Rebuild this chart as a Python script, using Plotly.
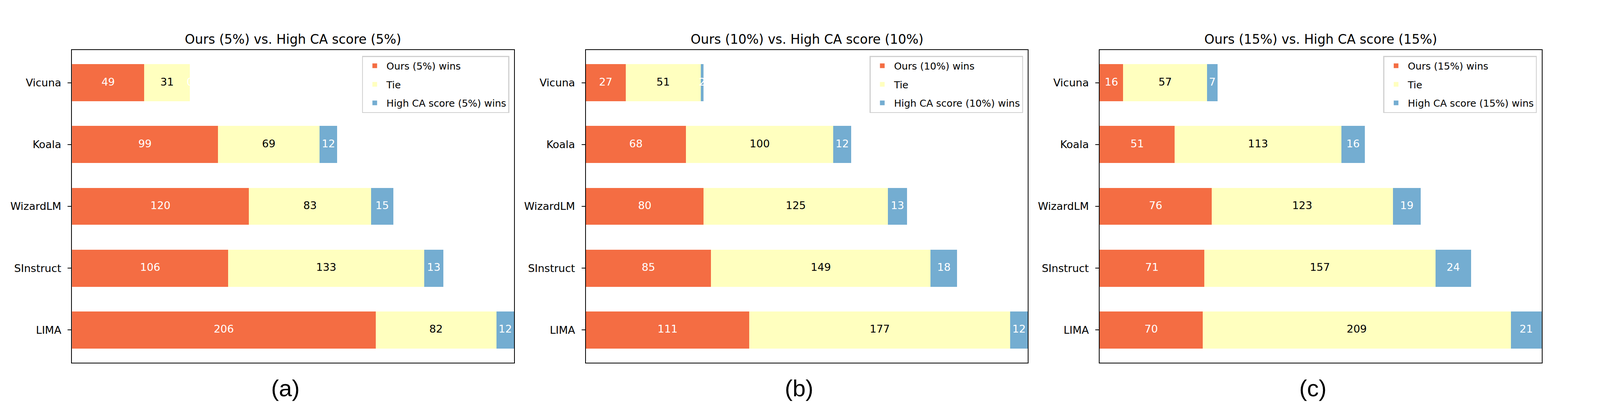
import plotly.graph_objects as go

# ---------------- data ----------------
models = ["Vicuna", "Koala", "WizardLM", "SInstruct", "LIMA"]

ours_5 = [49, 99, 120, 106, 206]
tie_5 = [31, 69, 83, 133, 82]
high_5 = [0, 12, 15, 13, 12]

ours_10 = [27, 68, 80, 85, 111]
tie_10 = [51, 100, 125, 149, 177]
high_10 = [2, 12, 13, 18, 12]

ours_15 = [16, 51, 76, 71, 70]
tie_15 = [57, 113, 123, 157, 209]
high_15 = [7, 16, 19, 24, 21]

pcts = ["5%", "10%", "15%"]
panel_letters = ["(a)", "(b)", "(c)"]
panels = [
    (ours_5, tie_5, high_5),
    (ours_10, tie_10, high_10),
    (ours_15, tie_15, high_15),
]

# ---------------- layout geometry ----------------
# The browser viewport is 4096x1067; the page body has an 8px margin.
REF_W, REF_H = 4665, 1067
VIEW_W, VIEW_H = 4096, 1067
BODY = 8
FIG_W, FIG_H = VIEW_W - BODY, VIEW_H - BODY
SX = VIEW_W / REF_W


def px(xr):
    return (xr * SX - BODY) / FIG_W


def py(yr):
    return 1 - (yr - BODY) / FIG_H


C_OURS = "#f46d43"
C_TIE = "#ffffbf"
C_HIGH = "#74add1"
FONT = "DejaVu Sans"

x_domains = [(210, 1499), (1708, 2997), (3206, 4495)]
y_top, y_bot = 128, 928
letter_x = [832, 2330, 3828]

fig = go.Figure()
layout = dict(
    width=FIG_W, height=FIG_H, autosize=False,
    margin=dict(l=0, r=0, t=0, b=0),
    paper_bgcolor="white", plot_bgcolor="white",
    barmode="stack", bargap=0.4,
    font=dict(family=FONT, color="black"),
    showlegend=True,
)
annotations = []

for i, (ours, tie, high) in enumerate(panels):
    n = "" if i == 0 else str(i + 1)
    xa, ya = "x" + n, "y" + n
    leg = "legend" + n
    pct = pcts[i]
    names = [f"Ours ({pct}) wins", "Tie", f"High CA score ({pct}) wins"]
    series = [ours, tie, high]
    colors = [C_OURS, C_TIE, C_HIGH]
    txtcolors = ["white", "black", "white"]

    left = [0] * len(models)
    for s, (vals, nm, col, tc) in enumerate(zip(series, names, colors, txtcolors)):
        fig.add_trace(go.Bar(
            y=models, x=vals, base=left, orientation="h", name=nm,
            marker=dict(color=col, line=dict(width=0)), width=0.6,
            xaxis=xa, yaxis=ya, legend=leg, legendgroup=f"p{i}s{s}",
            showlegend=True,
        ))
        centers = [l + v / 2 for l, v in zip(left, vals)]
        fig.add_trace(go.Scatter(
            y=models, x=centers, mode="text", text=[str(v) for v in vals],
            textposition="middle center",
            textfont=dict(family=FONT, size=27, color=tc),
            xaxis=xa, yaxis=ya, showlegend=False, cliponaxis=False,
            hoverinfo="skip",
        ))
        left = [l + v for l, v in zip(left, vals)]

    x0, x1 = x_domains[i]
    axis_common = dict(showline=True, mirror=True, linecolor="black", linewidth=2.2,
                       showgrid=False, zeroline=False)
    layout["xaxis" + n] = dict(
        domain=[px(x0), px(x1)], range=[0, 300], anchor=ya,
        showticklabels=False, ticks="", **axis_common,
    )
    layout["yaxis" + n] = dict(
        domain=[py(y_bot), py(y_top)], anchor=xa, type="category",
        categoryorder="array", categoryarray=models,
        range=[4.53, -0.53], ticks="outside", ticklen=9, tickwidth=2.2,
        tickcolor="black", ticklabelstandoff=11,
        tickfont=dict(family=FONT, size=27, color="black"), **axis_common,
    )
    layout[leg] = dict(
        x=px(x1 - 14), xanchor="right", y=py(143), yanchor="top",
        bgcolor="rgba(255,255,255,0.8)", bordercolor="#d0d0d0", borderwidth=2.5,
        font=dict(family=FONT, size=25, color="black"),
        tracegroupgap=12, itemwidth=50, traceorder="grouped",
    )
    annotations.append(dict(
        text=f"Ours ({pct}) vs. High CA score ({pct})",
        x=px((x0 + x1) / 2), y=py(100), xref="paper", yref="paper",
        xanchor="center", yanchor="middle", showarrow=False,
        font=dict(family=FONT, size=33, color="black"),
    ))
    annotations.append(dict(
        text=panel_letters[i],
        x=px(letter_x[i]), y=py(993), xref="paper", yref="paper",
        xanchor="center", yanchor="middle", showarrow=False,
        font=dict(family="Liberation Sans", size=60, color="black"),
    ))

layout["annotations"] = annotations
fig.update_layout(**layout)
fig.write_html("out.html")
